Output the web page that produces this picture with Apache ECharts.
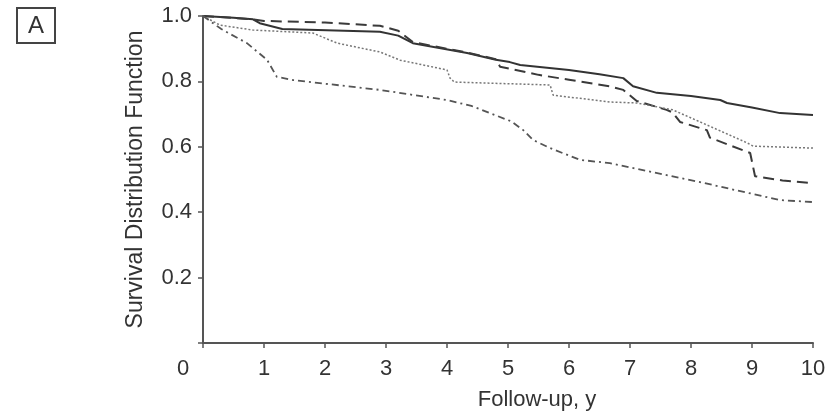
<!DOCTYPE html>
<html>
<head>
<meta charset="utf-8">
<script src="https://cdn.jsdelivr.net/npm/echarts@6/dist/echarts.min.js"></script>
<style>
html,body{margin:0;padding:0;background:#fff;}
#c{width:837px;height:419px;}
</style>
</head>
<body>
<div id="c"></div>
<script>
// x tick labels (years) and y tick labels
var xTicks = [0,1,2,3,4,5,6,7,8,9,10];
var yTicks = [0.2,0.4,0.6,0.8,1.0];

// Survival curves: [year, survival]
var solidCurve = [[0,1.0],[0.5,0.995],[0.82,0.99],[0.93,0.978],[1.3,0.96],[2.9,0.952],[3.2,0.94],[3.44,0.917],[4.33,0.887],[4.8,0.866],[5.03,0.859],[5.2,0.85],[6.0,0.835],[6.5,0.822],[6.89,0.81],[7.05,0.785],[7.44,0.765],[8.0,0.755],[8.48,0.743],[8.59,0.734],[9.0,0.72],[9.46,0.703],[10,0.697]];
var dashedCurve = [[0,1.0],[0.82,0.99],[1.0,0.985],[2.0,0.98],[2.9,0.97],[3.2,0.955],[3.44,0.92],[4.33,0.888],[4.8,0.868],[4.87,0.845],[5.5,0.82],[6.0,0.805],[6.67,0.785],[6.89,0.774],[7.11,0.74],[7.6,0.713],[7.7,0.705],[7.82,0.676],[8.26,0.651],[8.31,0.628],[8.97,0.581],[9.05,0.51],[9.5,0.497],[10,0.489]];
var dottedCurve = [[0,1.0],[0.28,0.972],[0.82,0.957],[1.8,0.948],[2.2,0.917],[2.9,0.89],[3.23,0.865],[4.0,0.835],[4.05,0.81],[4.12,0.798],[5.69,0.789],[5.74,0.758],[6.67,0.737],[7.11,0.734],[7.7,0.713],[8.15,0.676],[8.92,0.612],[9.02,0.602],[10,0.596]];
var dashDotCurve = [[0,1.0],[0.3,0.96],[0.72,0.917],[1.05,0.866],[1.21,0.814],[1.48,0.804],[2.9,0.774],[4.0,0.743],[4.4,0.725],[5.05,0.678],[5.25,0.651],[5.41,0.621],[5.69,0.596],[6.18,0.56],[6.67,0.55],[7.82,0.505],[8.15,0.492],[9.46,0.437],[10,0.431]];

var FONT = '"Liberation Sans", Arial, sans-serif';
var TXT = '#333';
var AX = '#555';

var chart = echarts.init(document.getElementById('c'), null, {renderer:'canvas'});
chart.setOption({
  animation:false,
  backgroundColor:'#fff',
  grid:{left:203,right:24,top:16,bottom:76,containLabel:false},
  xAxis:{
    type:'value',min:0,max:10,interval:1,
    name:'Follow-up, y',nameLocation:'middle',nameGap:46,
    nameTextStyle:{fontFamily:FONT,fontSize:22,color:TXT,padding:[0,0,0,58]},
    axisLine:{show:true,onZero:false,lineStyle:{color:AX,width:2}},
    axisTick:{show:true,length:5,lineStyle:{color:AX,width:1.5}},
    axisLabel:{fontFamily:FONT,fontSize:22,color:TXT,margin:15,
      formatter:function(v){return v===0?'{z|0}':String(v);},
      rich:{z:{fontFamily:FONT,fontSize:22,color:TXT,padding:[0,40,0,0]}}},
    splitLine:{show:false}
  },
  yAxis:{
    type:'value',min:0,max:1,interval:0.2,
    name:'Survival Distribution Function',nameLocation:'middle',nameGap:56,
    nameTextStyle:{fontFamily:FONT,fontSize:23,color:TXT},
    axisLine:{show:true,onZero:false,lineStyle:{color:AX,width:2}},
    axisTick:{show:true,length:5,lineStyle:{color:AX,width:1.5}},
    axisLabel:{fontFamily:FONT,fontSize:22,color:TXT,margin:11,
      formatter:function(v){
        for(var i=0;i<yTicks.length;i++){ if(Math.abs(yTicks[i]-v)<1e-9) return yTicks[i].toFixed(1); }
        return '';
      }},
    splitLine:{show:false}
  },
  graphic:[
    {type:'rect',shape:{x:17,y:8,width:38,height:35},style:{fill:'none',stroke:'#444',lineWidth:2}},
    {type:'text',x:36,y:26,style:{text:'A',font:'24px '+FONT,fill:TXT,align:'center',verticalAlign:'middle'}}
  ],
  series:[
    {type:'line',name:'solid',data:solidCurve,showSymbol:false,symbol:'none',
      lineStyle:{color:'#333',width:2,type:'solid'}},
    {type:'line',name:'dashed',data:dashedCurve,showSymbol:false,symbol:'none',
      lineStyle:{color:'#3a3a3a',width:2,type:[11,6]}},
    {type:'line',name:'dotted',data:dottedCurve,showSymbol:false,symbol:'none',
      lineStyle:{color:'#777',width:1.5,type:[2,2]}},
    {type:'line',name:'dashdot',data:dashDotCurve,showSymbol:false,symbol:'none',
      lineStyle:{color:'#555',width:1.8,type:[7,4,2,4]}}
  ]
});
</script>
</body>
</html>
